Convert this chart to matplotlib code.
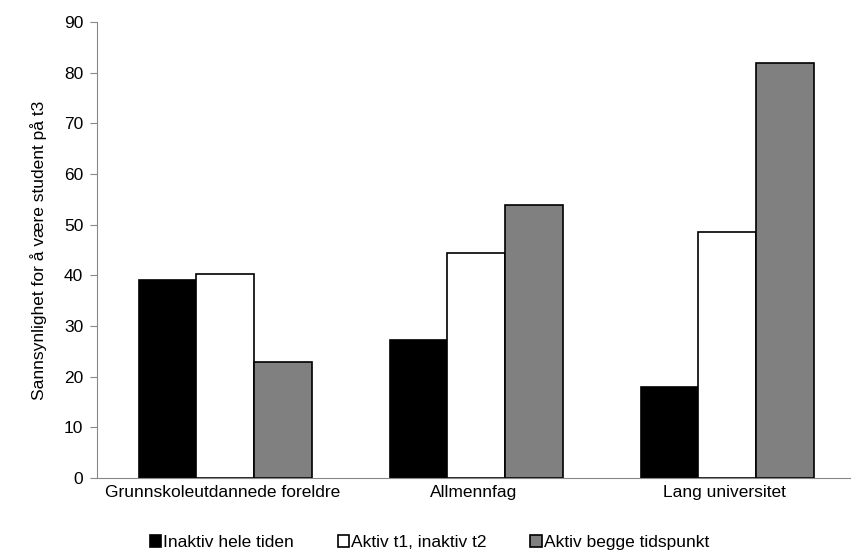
from matplotlib import pyplot as plt
import numpy as np

categories = ["Grunnskoleutdannede foreldre", "Allmennfag", "Lang universitet"]
series_names = ["Inaktiv hele tiden", "Aktiv t1, inaktiv t2", "Aktiv begge tidspunkt"]
inaktiv = [39.0, 27.2, 18.0]
aktiv_t1 = [40.2, 44.4, 48.6]
aktiv_begge = [23.0, 53.8, 81.9]
y_ticks = list(range(0, 91, 10))


def main() -> None:
    plt.rcParams["font.family"] = ["Liberation Sans", "DejaVu Sans"]
    plt.rcParams["font.size"] = 12.5

    fig = plt.figure(figsize=(8.59, 5.53), dpi=100)
    ax = fig.add_axes([0.113, 0.1356, 0.877, 0.8244])

    x = np.arange(len(categories))
    width = 0.23
    colors = ["black", "white", "#808080"]
    for i, (name, values) in enumerate(
        zip(series_names, [inaktiv, aktiv_t1, aktiv_begge])
    ):
        ax.bar(
            x + (i - 1) * width + 0.01,
            values,
            width,
            color=colors[i],
            edgecolor="black",
            linewidth=1.2,
            label=name,
        )

    ax.set_xlim(-0.5, 2.5)
    ax.set_ylim(0, 90)
    ax.set_yticks(y_ticks)
    ax.set_xticks(x)
    ax.set_xticklabels(categories)
    ax.tick_params(axis="x", length=0, pad=5)
    ax.tick_params(axis="y", length=5, color="#888888", direction="out", pad=5)
    ax.set_ylabel("Sannsynlighet for å være student på t3", labelpad=12)

    for side in ["top", "right"]:
        ax.spines[side].set_visible(False)
    for side in ["left", "bottom"]:
        ax.spines[side].set_color("#888888")

    fig.legend(
        loc="lower center",
        bbox_to_anchor=(0.5, -0.004),
        borderaxespad=0.1,
        borderpad=0.2,
        ncol=3,
        frameon=False,
        handlelength=0.65,
        handleheight=0.65,
        handletextpad=0.15,
        columnspacing=2.5,
    )

    fig.savefig("out.png", dpi=100)


if __name__ == "__main__":
    main()
